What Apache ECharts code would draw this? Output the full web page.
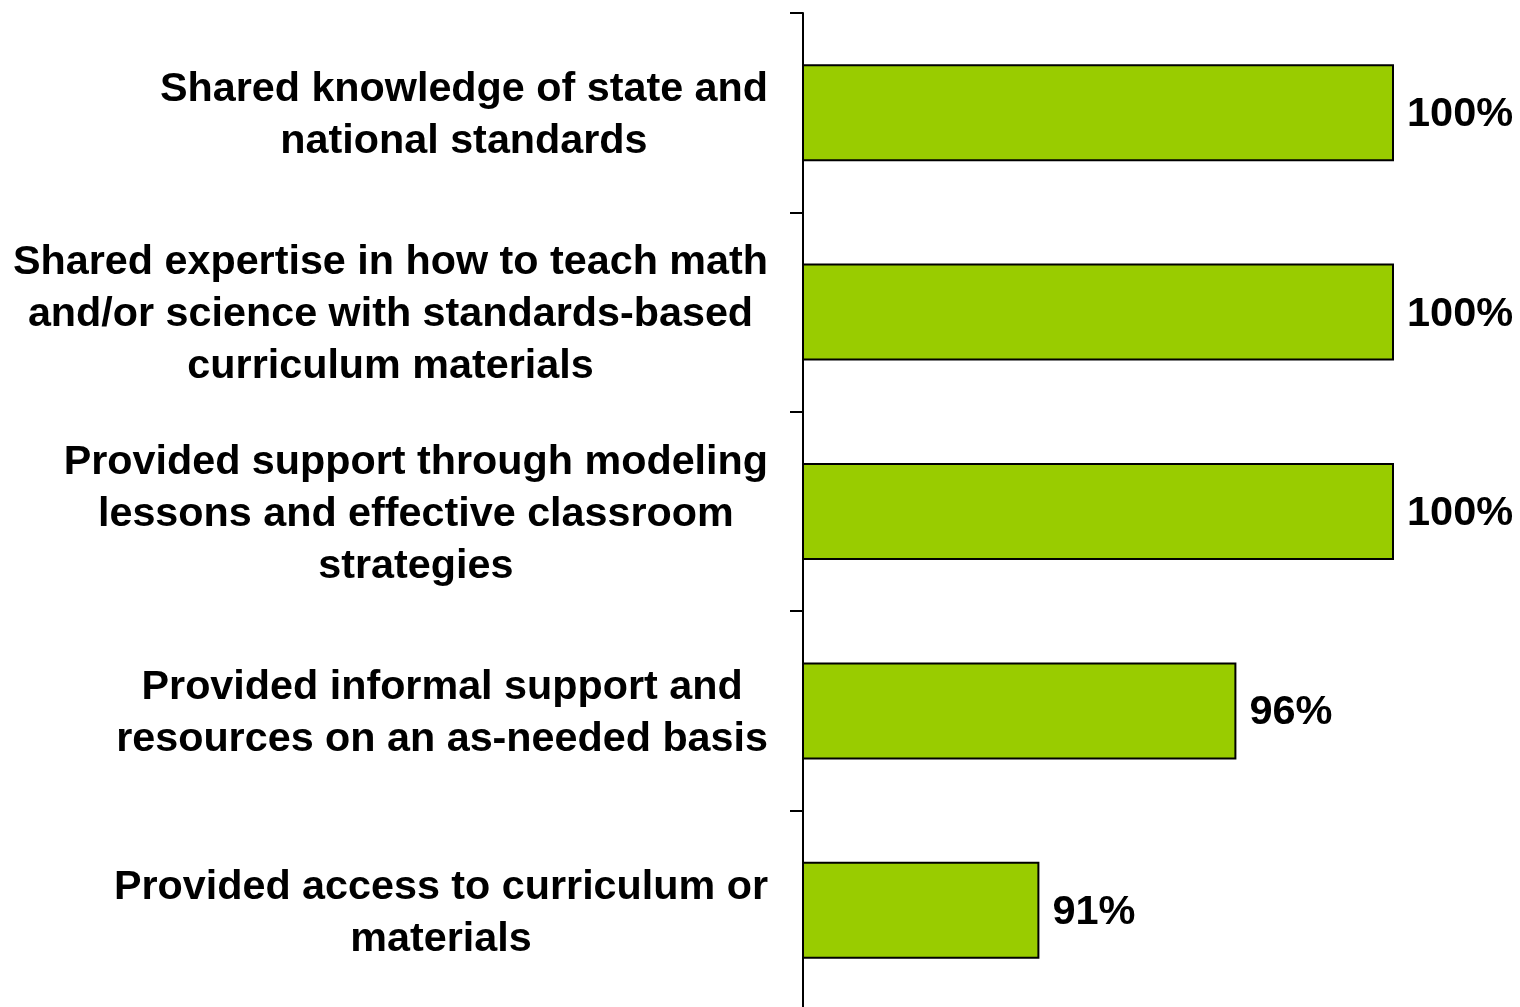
<!DOCTYPE html>
<html>
<head>
<meta charset="utf-8">
<script src="https://cdn.jsdelivr.net/npm/echarts@6/dist/echarts.min.js"></script>
<style>html,body{margin:0;padding:0;background:#fff;}#chart{width:1520px;height:1007px;}</style>
</head>
<body>
<div id="chart"></div>
<script>
const categories = [
  "Shared knowledge of state and\nnational standards",
  "Shared expertise in how to teach math\nand/or science with standards-based\ncurriculum materials",
  "Provided support through modeling\nlessons and effective classroom\nstrategies",
  "Provided informal support and\nresources on an as-needed basis",
  "Provided access to curriculum or\nmaterials"
];
const values = [100, 100, 100, 96, 91];

const FONT = '"Liberation Sans", Arial, sans-serif';
const chart = echarts.init(document.getElementById('chart'), null, {renderer: 'canvas'});
chart.setOption({
  animation: false,
  backgroundColor: '#ffffff',
  grid: {left: 803, right: 126, top: 13, height: 997, containLabel: false, outerBoundsMode: 'none'},
  xAxis: {
    type: 'value', min: 85, max: 100, show: false
  },
  yAxis: {
    type: 'category', inverse: true, data: categories,
    axisLine: {show: true, lineStyle: {color: '#000', width: 2}},
    axisTick: {show: true, length: 13, inside: false, lineStyle: {color: '#000', width: 2}},
    axisLabel: {
      margin: 35, align: 'right', padding: [6, 0, 0, 0],
      formatter: function (v) {
        return v.split('\n').map(function (l) { return '{c|' + l + '}'; }).join('\n');
      },
      rich: {
        c: {align: 'center', fontSize: 41.3, fontWeight: 'bold', fontFamily: FONT, color: '#000', lineHeight: 52}
      }
    }
  },
  series: [{
    type: 'bar', data: values, barWidth: 97,
    itemStyle: {color: '#99CC00', borderColor: '#000', borderWidth: 2},
    label: {
      show: true, position: 'right', distance: 13, offset: [0, 2], formatter: '{c}%',
      fontSize: 41.5, fontWeight: 'bold', fontFamily: FONT, color: '#000'
    }
  }]
});
</script>
</body>
</html>
